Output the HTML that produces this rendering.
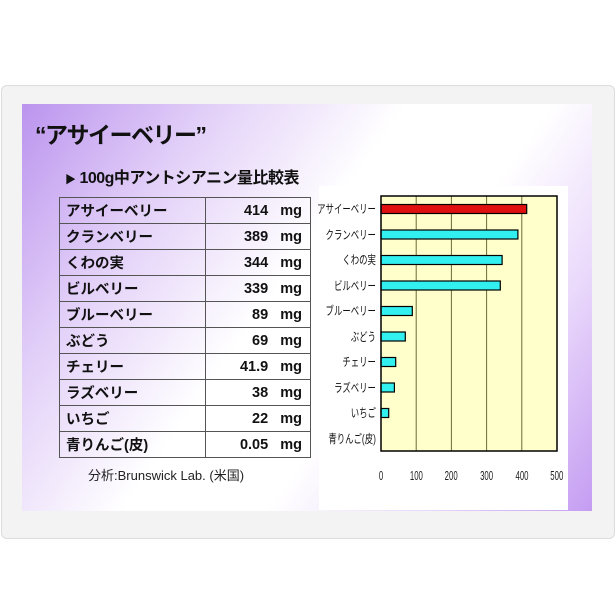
<!DOCTYPE html>
<html><head><meta charset="utf-8"><style>
body{margin:0;width:616px;height:616px;background:#fff;position:relative;overflow:hidden;font-family:"Liberation Sans","Noto Sans CJK JP",sans-serif}
.outer{position:absolute;left:1px;top:85px;width:612px;height:452px;background:#f3f3f3;border:1px solid #dcdcdc;border-radius:6px}
.slide{position:absolute;left:22px;top:104px;width:570px;height:407px;background:linear-gradient(125deg,#bb94ee 0%,#e2cff8 22%,#fff 45%,#fff 62%,#ead9fb 80%,#c49cf2 100%)}
.title{position:absolute;left:35px;top:116px;font-size:23px;font-weight:bold;color:#111;letter-spacing:-1.5px}
.sub{position:absolute;left:65px;top:164px;font-size:16px;font-weight:bold;color:#111;letter-spacing:-0.5px}
table{position:absolute;left:59px;top:197px;width:252px;border-collapse:collapse;font-size:14.5px;font-weight:bold;color:#111}
td{border:1px solid #555;height:25px;padding:0 0 0 6px}
td.v{text-align:right;padding-right:8px;width:90px}
.foot{position:absolute;left:88px;top:465px;font-size:13px;color:#222}
.chart{position:absolute;left:319px;top:186px;width:249px;height:324px;background:#fff}
</style></head><body>
<div class="outer"></div>
<div class="slide"></div>
<div class="title">“アサイーベリー”</div>
<div class="sub"><span style="font-size:11px">▶</span> 100g中アントシアニン量比較表</div>
<table>
<tr><td>アサイーベリー</td><td class="v">414&nbsp;&nbsp;&nbsp;mg</td></tr>
<tr><td>クランベリー</td><td class="v">389&nbsp;&nbsp;&nbsp;mg</td></tr>
<tr><td>くわの実</td><td class="v">344&nbsp;&nbsp;&nbsp;mg</td></tr>
<tr><td>ビルベリー</td><td class="v">339&nbsp;&nbsp;&nbsp;mg</td></tr>
<tr><td>ブルーベリー</td><td class="v">89&nbsp;&nbsp;&nbsp;mg</td></tr>
<tr><td>ぶどう</td><td class="v">69&nbsp;&nbsp;&nbsp;mg</td></tr>
<tr><td>チェリー</td><td class="v">41.9&nbsp;&nbsp;&nbsp;mg</td></tr>
<tr><td>ラズベリー</td><td class="v">38&nbsp;&nbsp;&nbsp;mg</td></tr>
<tr><td>いちご</td><td class="v">22&nbsp;&nbsp;&nbsp;mg</td></tr>
<tr><td>青りんご(皮)</td><td class="v">0.05&nbsp;&nbsp;&nbsp;mg</td></tr>
</table>
<div class="foot">分析:Brunswick Lab. (米国)</div>
<div class="chart"></div>
<svg width="616" height="616" style="position:absolute;left:0;top:0" font-family="Liberation Sans,Noto Sans CJK JP,sans-serif">
<rect x="381" y="196" width="176" height="255" fill="#ffffcc"/>
<g stroke="#6b6b3a" stroke-width="1">
<line x1="416.2" y1="196" x2="416.2" y2="451"/><line x1="451.4" y1="196" x2="451.4" y2="451"/>
<line x1="486.6" y1="196" x2="486.6" y2="451"/><line x1="521.8" y1="196" x2="521.8" y2="451"/>
</g>
<g stroke="#000" stroke-width="1.2">
<rect x="381" y="204.5" width="145.7" height="9" fill="#e01010"/>
<rect x="381" y="230" width="136.9" height="9" fill="#33f0f0"/>
<rect x="381" y="255.5" width="121.1" height="9" fill="#33f0f0"/>
<rect x="381" y="281" width="119.3" height="9" fill="#33f0f0"/>
<rect x="381" y="306.5" width="31.3" height="9" fill="#33f0f0"/>
<rect x="381" y="332" width="24.3" height="9" fill="#33f0f0"/>
<rect x="381" y="357.5" width="14.7" height="9" fill="#33f0f0"/>
<rect x="381" y="383" width="13.4" height="9" fill="#33f0f0"/>
<rect x="381" y="408.5" width="7.7" height="9" fill="#33f0f0"/>
</g>
<rect x="381" y="196" width="176" height="255" fill="none" stroke="#000" stroke-width="1.5"/>
<g font-size="12" text-anchor="end" fill="#111" transform="scale(0.7,1)">
<text x="537" y="213">アサイーベリー</text>
<text x="537" y="239">クランベリー</text>
<text x="537" y="264">くわの実</text>
<text x="537" y="290">ビルベリー</text>
<text x="537" y="315">ブルーベリー</text>
<text x="537" y="341">ぶどう</text>
<text x="537" y="366">チェリー</text>
<text x="537" y="392">ラズベリー</text>
<text x="537" y="417">いちご</text>
<text x="537" y="443">青りんご(皮)</text>
</g>
<g font-size="13" text-anchor="middle" fill="#222" transform="scale(0.6,1)">
<text x="635" y="480">0</text><text x="694" y="480">100</text><text x="752" y="480">200</text>
<text x="811" y="480">300</text><text x="870" y="480">400</text><text x="928" y="480">500</text>
</g>
</svg>
</body></html>
